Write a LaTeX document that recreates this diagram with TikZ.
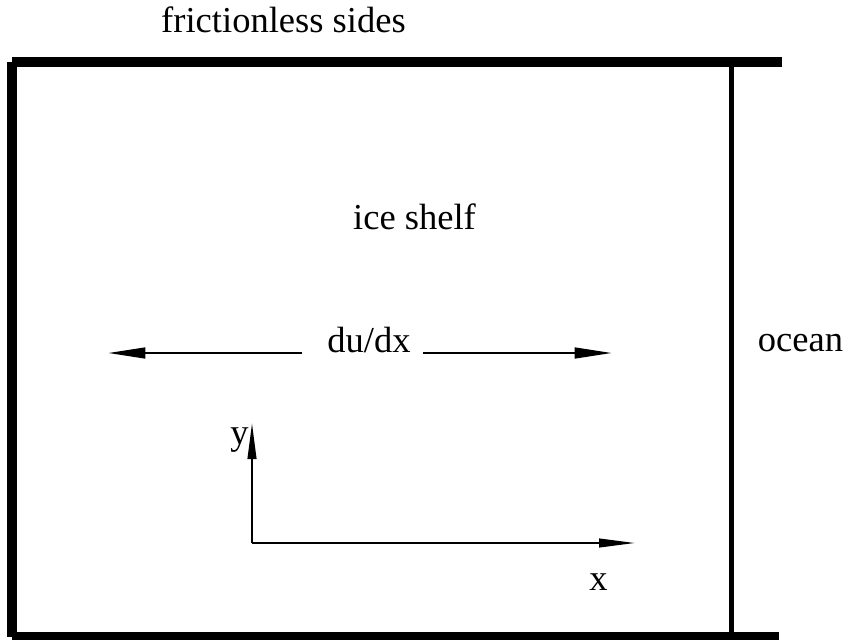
\documentclass[tikz,border=0pt]{standalone}
\usepackage{fontspec}
\setmainfont{Liberation Serif}
\usetikzlibrary{arrows.meta}

\begin{document}
\begin{tikzpicture}[x=0.75pt, y=-0.75pt,
  lbl/.style={anchor=base, inner sep=0pt, font=\fontsize{27.4}{33}\selectfont},
  wall/.style={line width=7.5pt, line cap=butt},
  front/.style={line width=3.75pt},
  strain/.style={-{Triangle[length=28pt, width=8pt]}, line width=1.9pt},
  axis/.style={-{Triangle[length=27pt, width=6.5pt]}, line width=1.5pt}]
  \useasboundingbox (0,0) rectangle (849,639);
  % frictionless walls and the calving front
  \draw[wall] (12,62) -- (782,62);
  \draw[wall] (12,62) -- (12,637);
  \draw[wall] (12,637) -- (779,637);
  \draw[front] (731.5,62) -- (731.5,637);
  \node[lbl] (sides) at (283.5,32) {frictionless sides};
  \node[lbl] (shelf) at (414.5,229) {ice shelf};
  \node[lbl] (ocean) at (800.5,351) {ocean};
  % stretching
  \node[lbl] (strainrate) at (369,352) {du/dx};
  \coordinate (lstart) at (302,353);
  \coordinate (ltip) at (108,353);
  \coordinate (rstart) at (423,353);
  \coordinate (rtip) at (612,353);
  \draw[strain] (lstart) -- (ltip);
  \draw[strain] (rstart) -- (rtip);
  % axes
  \coordinate (origin) at (252,543);
  \coordinate (ytip) at (252,423);
  \coordinate (xtip) at (635,543);
  \draw[axis] (origin) -- (ytip);
  \draw[axis] (origin) -- (xtip);
  \node[lbl] (xlabel) at (598.5,590) {x};
  \node[lbl] (ylabel) at (239.5,444.5) {y};
\end{tikzpicture}
\end{document}
